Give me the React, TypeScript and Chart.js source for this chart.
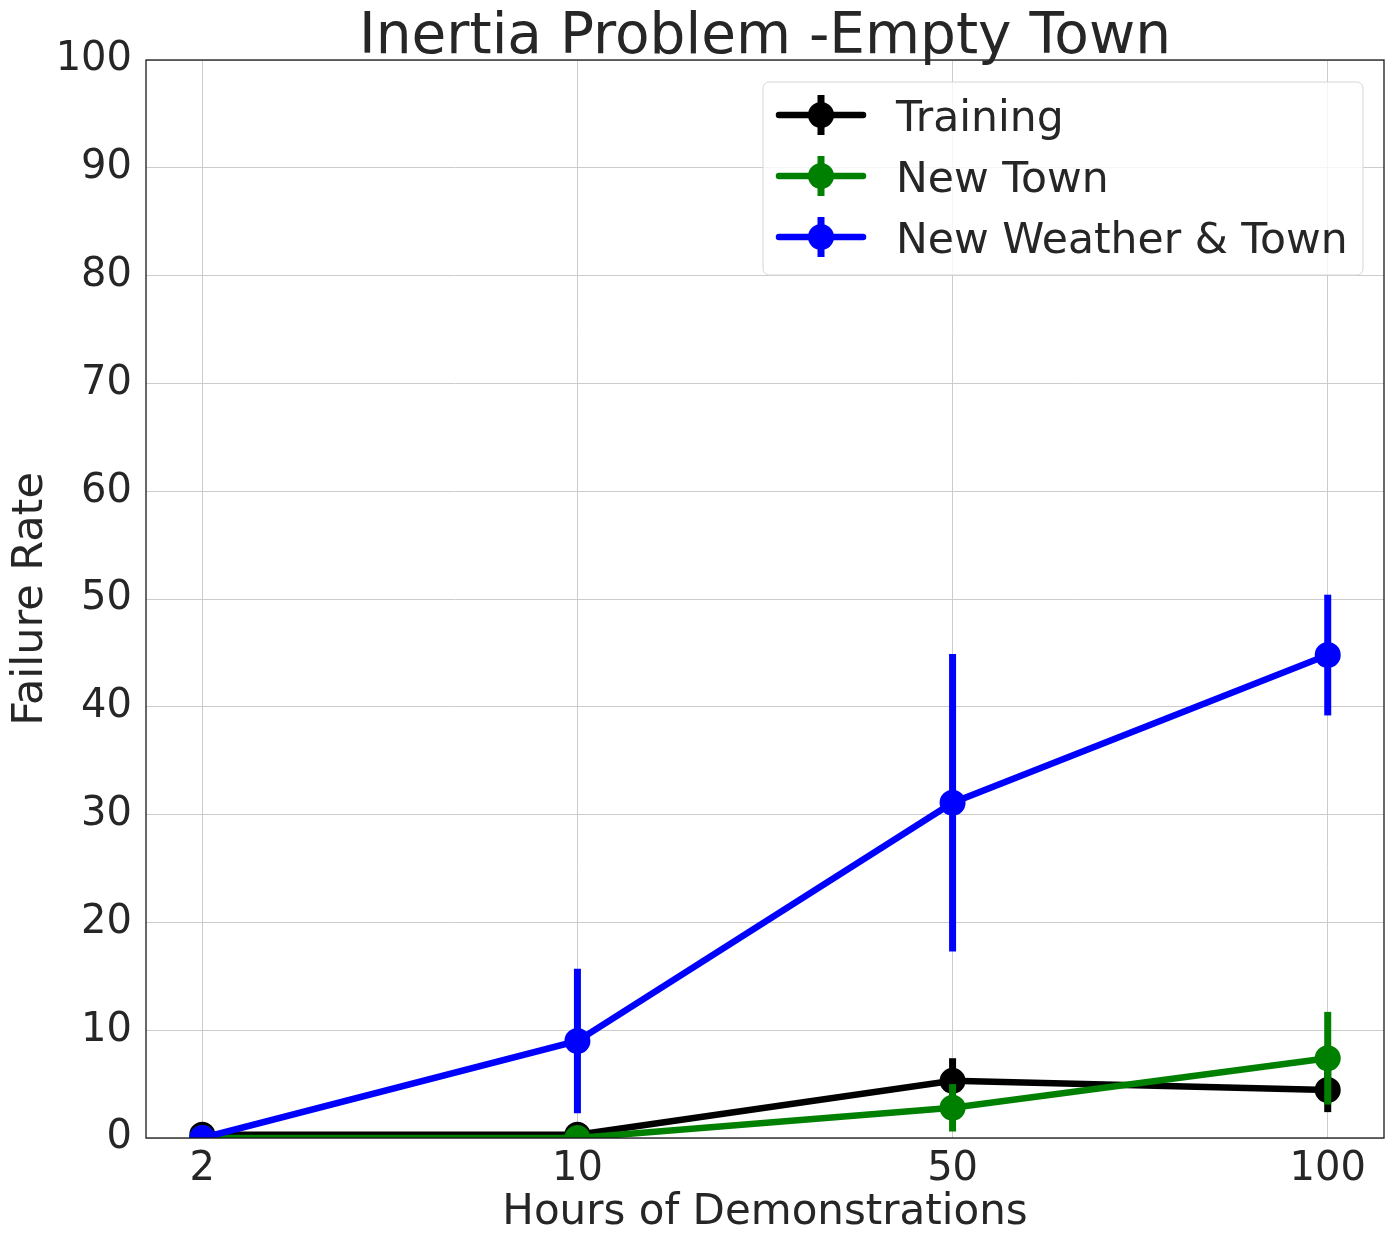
import Chart from 'chart.js/auto';
import { useEffect, useRef } from 'react';

const hours = ['2', '10', '50', '100'];

const seriesNames = ['Training', 'New Town', 'New Weather & Town'];
const seriesColors = ['#000000', '#008000', '#0000ff'];

const trainingRate = [0.3, 0.3, 5.3, 4.45];
const trainingErr = [0, 0, 2.1, 2.05];

const newTownRate = [0, 0, 2.8, 7.4];
const newTownErr = [0, 0, 2.2, 4.3];

const newWeatherTownRate = [0, 9.0, 31.1, 44.8];
const newWeatherTownErr = [0, 6.7, 13.8, 5.6];

const yTicks = [0, 10, 20, 30, 40, 50, 60, 70, 80, 90, 100];

const rates = [trainingRate, newTownRate, newWeatherTownRate];
const errors = [trainingErr, newTownErr, newWeatherTownErr];

const FONT = "'DejaVu Sans', sans-serif";
const TEXT = '#262626';

// error bars drawn just before each line, like matplotlib errorbar
const errorBarPlugin = {
	id: 'errorBars',
	beforeDatasetDraw(chart: any, args: any) {
		const { ctx, chartArea, scales } = chart;
		const idx = args.index;
		const errs = errors[idx];
		const vals = rates[idx];
		ctx.save();
		ctx.beginPath();
		ctx.rect(chartArea.left, chartArea.top, chartArea.right - chartArea.left, chartArea.bottom - chartArea.top);
		ctx.clip();
		ctx.strokeStyle = seriesColors[idx];
		ctx.lineWidth = 7;
		args.meta.data.forEach((pt: any, i: number) => {
			if (!errs[i]) return;
			const y1 = scales.y.getPixelForValue(vals[i] + errs[i]);
			const y2 = scales.y.getPixelForValue(vals[i] - errs[i]);
			ctx.beginPath();
			ctx.moveTo(pt.x, y1);
			ctx.lineTo(pt.x, y2);
			ctx.stroke();
		});
		ctx.restore();
	},
};

// frame, title and legend box
const decorPlugin = {
	id: 'decor',
	afterDatasetsDraw(chart: any) {
		const { ctx, chartArea } = chart;
		const { left, right, top, bottom } = chartArea;
		ctx.save();
		ctx.strokeStyle = '#1a1a1a';
		ctx.lineWidth = 1.3;
		ctx.strokeRect(left, top, right - left, bottom - top);

		ctx.fillStyle = TEXT;
		ctx.font = `56.5px ${FONT}`;
		ctx.textAlign = 'center';
		ctx.textBaseline = 'alphabetic';
		ctx.fillText('Inertia Problem -Empty Town', (left + right) / 2, 53);

		// legend
		const bx = 763;
		const by = 82;
		const bw = 600;
		const bh = 193;
		ctx.beginPath();
		ctx.roundRect(bx, by, bw, bh, 6);
		ctx.fillStyle = 'rgba(255,255,255,0.8)';
		ctx.fill();
		ctx.strokeStyle = '#d6d6d6';
		ctx.lineWidth = 1;
		ctx.stroke();

		const rowY = [115, 176, 237];
		seriesNames.forEach((name, i) => {
			const y = rowY[i];
			const c = seriesColors[i];
			ctx.strokeStyle = c;
			ctx.fillStyle = c;
			ctx.lineCap = 'round';
			ctx.lineWidth = 6.5;
			ctx.beginPath();
			ctx.moveTo(779, y);
			ctx.lineTo(863, y);
			ctx.stroke();
			ctx.lineCap = 'butt';
			ctx.lineWidth = 7;
			ctx.beginPath();
			ctx.moveTo(821, y - 20);
			ctx.lineTo(821, y + 20);
			ctx.stroke();
			ctx.beginPath();
			ctx.arc(821, y, 13, 0, Math.PI * 2);
			ctx.fill();

			ctx.fillStyle = TEXT;
			ctx.font = `42.5px ${FONT}`;
			ctx.textAlign = 'left';
			ctx.textBaseline = 'alphabetic';
			ctx.fillText(name, 896, y + 16);
		});
		ctx.restore();
	},
};

function App() {
	const chartRef = useRef<HTMLCanvasElement | null>(null);

	useEffect(() => {
		document.body.style.margin = '0';
		if (!chartRef.current) return;

		const existingChart = Chart.getChart(chartRef.current);
		if (existingChart) existingChart.destroy();

		const datasets = rates.map((vals, i) => ({
			label: seriesNames[i],
			data: vals.map((v, j) => ({ x: j, y: v })),
			borderColor: seriesColors[i],
			backgroundColor: seriesColors[i],
			pointBackgroundColor: seriesColors[i],
			pointBorderColor: seriesColors[i],
			borderWidth: 6.5,
			pointRadius: 12,
			pointBorderWidth: 2,
			pointHoverRadius: 12,
			tension: 0,
			clip: 0,
			order: 2 - i,
		}));

		const newChart = new Chart(chartRef.current, {
			type: 'line',
			data: { datasets },
			plugins: [errorBarPlugin, decorPlugin],
			options: {
				responsive: false,
				animation: false,
				layout: { padding: { top: 60, right: 13, left: 0, bottom: 0 } },
				plugins: {
					legend: { display: false },
					title: { display: false },
					tooltip: { enabled: false },
				},
				scales: {
					x: {
						type: 'linear',
						min: -0.15,
						max: 3.15,
						afterBuildTicks: (scale: any) => {
							scale.ticks = hours.map((_, i) => ({ value: i }));
						},
						afterFit: (scale: any) => {
							scale.height = 105;
						},
						ticks: {
							callback: (v: any) => hours[v as number] ?? '',
							font: { family: FONT, size: 40 },
							color: TEXT,
							padding: 8,
							maxRotation: 0,
							autoSkip: false,
						},
						grid: { color: '#cccccc', lineWidth: 1, drawTicks: false },
						border: { display: false },
						title: {
							display: true,
							text: 'Hours of Demonstrations',
							font: { family: FONT, size: 42 },
							color: TEXT,
							padding: { top: 0, bottom: 5 },
						},
					},
					y: {
						min: 0,
						max: 100,
						afterBuildTicks: (scale: any) => {
							scale.ticks = yTicks.map((v) => ({ value: v }));
						},
						afterFit: (scale: any) => {
							scale.width = 146;
						},
						ticks: {
							font: { family: FONT, size: 40 },
							color: TEXT,
							padding: 14,
						},
						grid: { color: '#cccccc', lineWidth: 1, drawTicks: false },
						border: { display: false },
						title: {
							display: true,
							text: 'Failure Rate',
							font: { family: FONT, size: 43 },
							color: TEXT,
							padding: { top: 5, bottom: 0 },
						},
					},
				},
			},
		});

		return () => {
			newChart.destroy();
		};
	}, []);

	return (
		<div style={{ width: '1398px', height: '1243px' }}>
			<canvas ref={chartRef} width={1398} height={1243}></canvas>
		</div>
	);
}

export default App;
